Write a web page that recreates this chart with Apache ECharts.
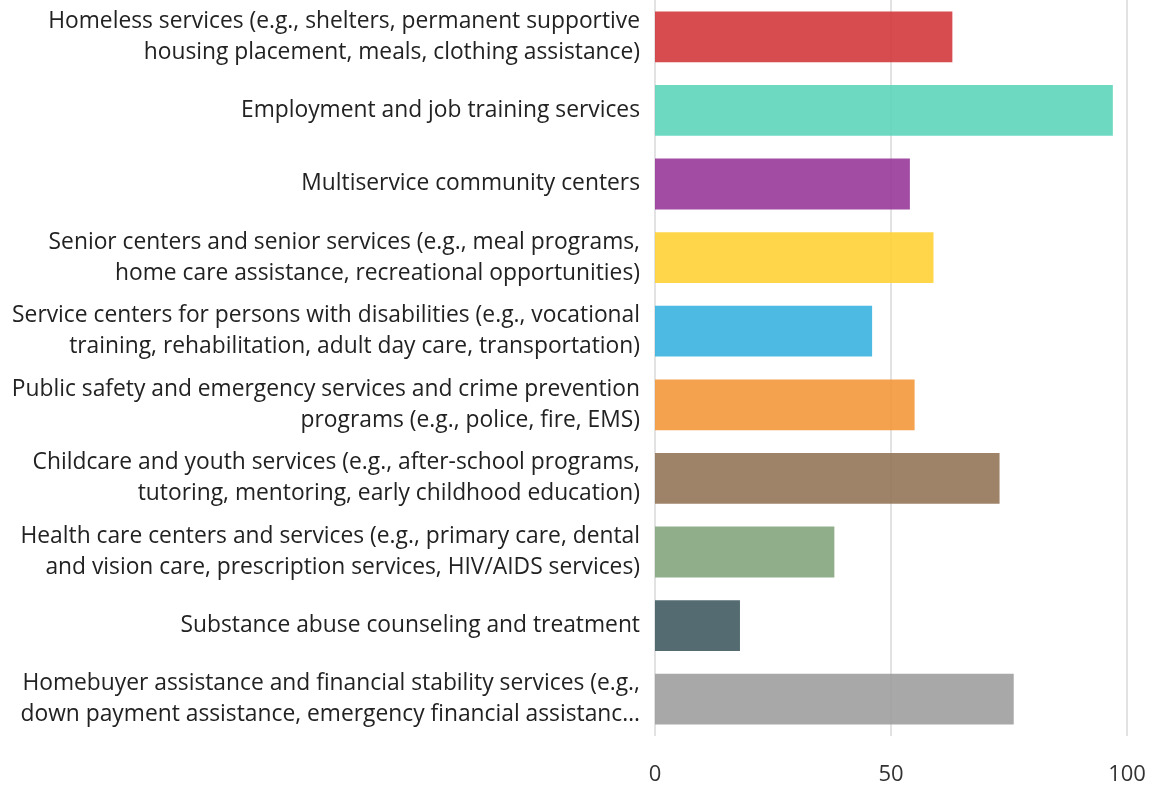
<!DOCTYPE html>
<html>
<head>
<meta charset="utf-8">
<script src="https://cdn.jsdelivr.net/npm/echarts@6/dist/echarts.min.js"></script>
<style>
  html, body { margin: 0; padding: 0; background: #fff; }
  #chart { width: 1159px; height: 786px; }
</style>
</head>
<body>
<div id="chart"></div>
<script>
// Service categories, listed top to bottom
const categories = [
  'Homeless services (e.g., shelters, permanent supportive\nhousing placement, meals, clothing assistance)',
  'Employment and job training services',
  'Multiservice community centers',
  'Senior centers and senior services (e.g., meal programs,\nhome care assistance, recreational opportunities)',
  'Service centers for persons with disabilities (e.g., vocational\ntraining, rehabilitation, adult day care, transportation)',
  'Public safety and emergency services and crime prevention\nprograms (e.g., police, fire, EMS)',
  'Childcare and youth services (e.g., after-school programs,\ntutoring, mentoring, early childhood education)',
  'Health care centers and services (e.g., primary care, dental\nand vision care, prescription services, HIV/AIDS services)',
  'Substance abuse counseling and treatment',
  'Homebuyer assistance and financial stability services (e.g.,\ndown payment assistance, emergency financial assistanc\u2026'
];
const values = [63, 97, 54, 59, 46, 55, 73, 38, 18, 76];
const barColors = [
  '#D3393B', '#5DD5BA', '#993899', '#FFD036', '#39B3E0',
  '#F4983B', '#957559', '#85A57E', '#415B63', '#9E9E9E'
];
const xTicks = [0, 50, 100];

const chart = echarts.init(document.getElementById('chart'));
chart.setOption({
  animation: false,
  grid: { left: 655, right: 32, top: 0, bottom: 50, containLabel: false },
  xAxis: {
    type: 'value',
    min: xTicks[0],
    max: xTicks[xTicks.length - 1],
    interval: xTicks[1] - xTicks[0],
    axisLine: { show: false },
    axisTick: { show: false },
    splitLine: { show: true, lineStyle: { color: '#d9d9d9', width: 1.5 } },
    axisLabel: {
      color: '#333',
      fontSize: 22,
      fontFamily: '"Open Sans", sans-serif',
      margin: 28
    }
  },
  yAxis: {
    type: 'category',
    inverse: true,
    data: categories,
    axisLine: { show: false },
    axisTick: { show: false },
    axisLabel: {
      color: '#222',
      fontSize: 22.8,
      lineHeight: 31,
      align: 'right',
      fontFamily: '"Open Sans", sans-serif',
      margin: 15
    }
  },
  series: [{
    type: 'bar',
    data: values.map((v, i) => ({ value: v, itemStyle: { color: barColors[i] } })),
    barCategoryGap: '31%',
    itemStyle: { opacity: 0.9 }
  }]
});
</script>
</body>
</html>
